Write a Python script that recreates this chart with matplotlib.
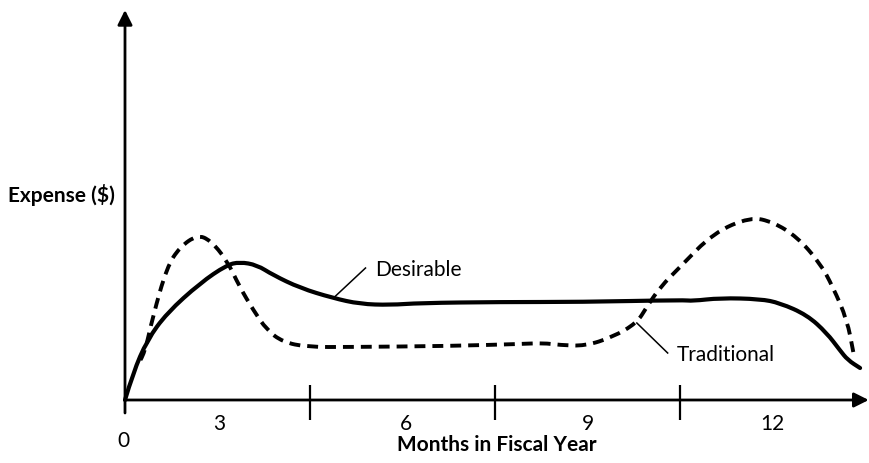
"""Desirable vs traditional expense pattern over the fiscal year."""

import matplotlib.pyplot as plt
from matplotlib.path import Path
from matplotlib.patches import PathPatch

# Desirable spending curve (months, expense in arbitrary units)
desirable_month = [0, 0.13, 0.36, 0.68, 1.22, 1.65, 1.86, 2.14, 2.40, 2.84, 3.37,
                   3.81, 4.30, 4.78, 6.08, 7.38, 9.05, 9.20, 9.65, 10.30, 10.62,
                   11.06, 11.38, 11.59, 11.72, 11.92]
desirable_exp = [0, 0.27, 0.60, 0.87, 1.17, 1.35, 1.38, 1.35, 1.25, 1.12, 1.02,
                 0.96, 0.95, 0.97, 0.98, 0.98, 1.00, 0.99, 1.02, 1.01, 0.97,
                 0.85, 0.67, 0.50, 0.40, 0.32]

# Traditional spending curve
traditional_month = [0.25, 0.32, 0.45, 0.68, 0.89, 1.17, 1.38, 1.65, 1.86, 2.08,
                     2.30, 2.56, 2.95, 3.65, 5.27, 6.41, 6.78, 7.05, 7.46, 7.91,
                     8.30, 8.46, 8.68, 9.00, 9.54, 10.14, 10.51, 10.90, 11.27,
                     11.48, 11.71, 11.81]
traditional_exp = [0.40, 0.47, 0.83, 1.33, 1.53, 1.65, 1.60, 1.40, 1.13, 0.90,
                   0.70, 0.58, 0.53, 0.53, 0.54, 0.56, 0.57, 0.55, 0.54, 0.63,
                   0.77, 0.93, 1.13, 1.33, 1.67, 1.83, 1.78, 1.63, 1.37,
                   1.13, 0.80, 0.48]

quarter_ticks = [3, 6, 9]
quarter_label_pos = [1.52, 4.55, 7.5, 10.5]
quarter_labels = ['3', '6', '9', '12']


def smooth_path(xs, ys):
    # quadratic bezier through the midpoints, read points act as control points
    verts = [(xs[0], ys[0])]
    codes = [Path.MOVETO]
    for i in range(1, len(xs) - 1):
        verts += [(xs[i], ys[i]), ((xs[i] + xs[i + 1]) / 2, (ys[i] + ys[i + 1]) / 2)]
        codes += [Path.CURVE3, Path.CURVE3]
    verts.append((xs[-1], ys[-1]))
    codes.append(Path.LINETO)
    return Path(verts, codes)


plt.rcParams['font.family'] = ['Lato', 'DejaVu Sans']

fig = plt.figure(figsize=(8.7, 4.63), dpi=100)
ax = fig.add_axes([0, 0, 1, 1])
ax.set_xlim(-2.027, 12.081)
ax.set_ylim(-0.63, 4.00)
ax.axis('off')

# Axes with arrow heads
arrow = dict(arrowstyle='-|>', lw=2, color='black', mutation_scale=22,
             shrinkA=0, shrinkB=0)
ax.annotate('', xy=(0, 3.90), xytext=(0, -0.13), arrowprops=arrow)
ax.annotate('', xy=(12.06, 0), xytext=(0, 0), arrowprops=arrow)

# Quarter boundary ticks
ax.vlines(quarter_ticks, -0.20, 0.15, color='black', lw=1.6)
for pos, lab in zip(quarter_label_pos, quarter_labels):
    ax.text(pos, -0.24, lab, ha='center', va='center', fontsize=15)
ax.text(-0.03, -0.41, '0', ha='center', va='center', fontsize=15)

ax.text(6.03, -0.45, 'Months in Fiscal Year', ha='center', va='center',
        fontsize=15, fontweight='bold')
ax.text(-0.16, 2.05, 'Expense ($)', ha='right', va='center',
        fontsize=15, fontweight='bold')

# Curves
ax.add_patch(PathPatch(smooth_path(desirable_month, desirable_exp),
                       fill=False, edgecolor='black', lw=3,
                       joinstyle='round', capstyle='round'))
ax.add_patch(PathPatch(smooth_path(traditional_month, traditional_exp),
                       fill=False, edgecolor='black', lw=2.8,
                       linestyle=(0, (2.8, 1.8))))

# Curve labels with leader lines
ax.plot([3.38, 3.90], [1.02, 1.32], color='black', lw=1.1)
ax.text(4.05, 1.30, 'Desirable', ha='left', va='center', fontsize=15)
ax.plot([8.30, 8.80], [0.77, 0.47], color='black', lw=1.1)
ax.text(8.95, 0.45, 'Traditional', ha='left', va='center', fontsize=15)

fig.savefig('out.png', dpi=100)
